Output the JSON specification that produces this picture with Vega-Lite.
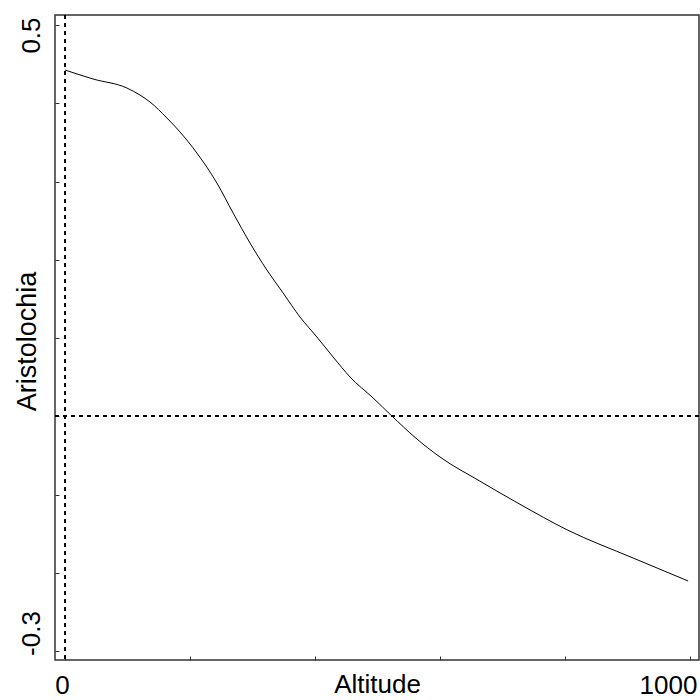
{
  "$schema": "https://vega.github.io/schema/vega-lite/v6.json",
  "width": 644,
  "height": 645,
  "padding": {"left": 55, "top": 15, "right": 1, "bottom": 40},
  "autosize": {"type": "none"},
  "background": "white",
  "config": {
    "view": {"stroke": "#333333", "strokeWidth": 1.5},
    "font": "Liberation Sans",
    "axis": {"domain": false, "grid": false, "tickColor": "#333333", "labelColor": "black", "titleColor": "black", "labelFont": "Liberation Sans", "titleFont": "Liberation Sans", "labelFontWeight": "normal", "titleFontWeight": "normal"}
  },
  "data": {"values": [
    {"alt": 0, "val": 0.4425},
    {"alt": 45, "val": 0.431},
    {"alt": 99, "val": 0.4195},
    {"alt": 120, "val": 0.4105},
    {"alt": 136, "val": 0.4016},
    {"alt": 163, "val": 0.3812},
    {"alt": 184, "val": 0.3633},
    {"alt": 211, "val": 0.3364},
    {"alt": 243, "val": 0.2981},
    {"alt": 269, "val": 0.2597},
    {"alt": 296, "val": 0.2214},
    {"alt": 323, "val": 0.1869},
    {"alt": 349, "val": 0.1575},
    {"alt": 376, "val": 0.1268},
    {"alt": 403, "val": 0.1013},
    {"alt": 429, "val": 0.0757},
    {"alt": 456, "val": 0.0502},
    {"alt": 493, "val": 0.0233},
    {"alt": 523, "val": 0.0003},
    {"alt": 560, "val": -0.027},
    {"alt": 600, "val": -0.0521},
    {"alt": 664, "val": -0.083},
    {"alt": 728, "val": -0.1125},
    {"alt": 803, "val": -0.145},
    {"alt": 909, "val": -0.1812},
    {"alt": 997, "val": -0.2105}
  ]},
  "layer": [
    {
      "mark": {"type": "rule", "stroke": "black", "strokeWidth": 1, "strokeDash": [4, 4]},
      "encoding": {"y": {"datum": 0, "type": "quantitative", "scale": {"domain": [-0.3115, 0.5128], "nice": false, "zero": false}}}
    },
    {
      "mark": {"type": "rule", "stroke": "black", "strokeWidth": 1, "strokeDash": [4, 4]},
      "encoding": {"x": {"datum": 0, "type": "quantitative", "scale": {"domain": [-16, 1014.4], "nice": false, "zero": false}}}
    },
    {
      "mark": {"type": "line", "stroke": "black", "strokeWidth": 1, "interpolate": "monotone"},
      "encoding": {
        "x": {"field": "alt", "type": "quantitative",
          "scale": {"domain": [-16, 1014.4], "nice": false, "zero": false},
          "axis": {"values": [0, 200, 400, 600, 800, 1000], "tickSize": -4,
            "labelExpr": "datum.value == 0 || datum.value == 1000 ? datum.label : ''",
            "format": "d",
            "labelFontSize": 26, "labelBaseline": "alphabetic", "labelPadding": 37,
            "labelAlign": "center",
            "labelOffset": {"condition": {"test": "datum.value == 1000", "value": -22}, "value": -3},
            "title": "Altitude", "titleFontSize": 26, "titleX": 322, "titleY": 32, "titleBaseline": "alphabetic", "titleAnchor": null}},
        "y": {"field": "val", "type": "quantitative",
          "scale": {"domain": [-0.3115, 0.5128], "nice": false, "zero": false},
          "axis": {"values": [-0.3, -0.2, -0.1, 0, 0.1, 0.2, 0.3, 0.4, 0.5], "tickSize": -4,
            "labelExpr": "datum.value > 0.49 ? '0.5' : (datum.value < -0.29 ? '-0.3' : '')",
            "labelFontSize": 26, "labelAngle": -90, "labelBaseline": "alphabetic", "labelAlign": "center", "labelPadding": 20,
            "labelOffset": {"condition": {"test": "datum.value > 0", "value": 10}, "value": -18},
            "title": "Aristolochia", "titleFontSize": 27, "titleAngle": -90, "titleX": -20, "titleY": 326, "titleBaseline": "alphabetic", "titleAlign": "center", "titleAnchor": null}}
      }
    }
  ]
}
